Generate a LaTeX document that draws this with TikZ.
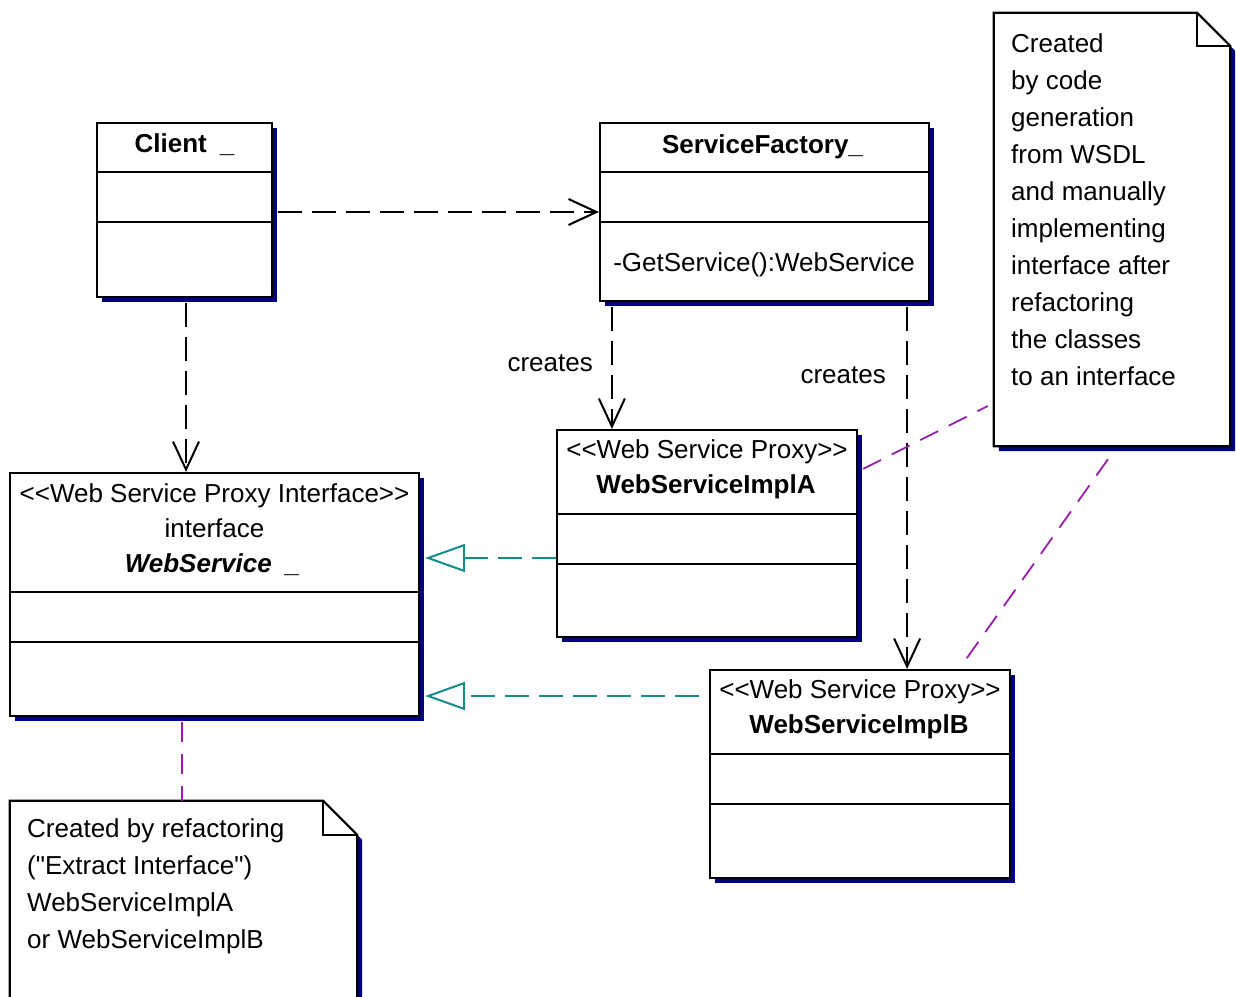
\documentclass[tikz,border=0pt]{standalone}
\usepackage{fontspec}
\setmainfont{Liberation Sans}[Ligatures=TeXOff]
\usetikzlibrary{arrows.meta,calc,shadows}
\definecolor{shadowblue}{RGB}{0,0,128}
\definecolor{realcol}{RGB}{20,140,140}
\definecolor{anccol}{RGB}{150,30,170}
\tikzset{
  umlbox/.style={draw=black, line width=2.2pt, fill=white, rectangle, inner sep=0pt,
    general shadow={fill=shadowblue, draw=none, shadow xshift=5pt, shadow yshift=-5pt}},
  notepath/.style={draw=black, line width=2.2pt, fill=white,
    general shadow={fill=shadowblue, draw=none, shadow xshift=5pt, shadow yshift=-5pt}},
  divider/.style={draw=black, line width=2pt},
  txt/.style={font=\fontsize{26}{31}\selectfont, inner sep=0pt},
  btxt/.style={font=\fontsize{26}{31}\selectfont\bfseries, inner sep=0pt},
  dep/.style={draw=black, line width=2pt, dash pattern=on 24pt off 10pt,
    -{Straight Barb[length=28pt,width=26pt]}},
  real/.style={draw=realcol, line width=2pt, dash pattern=on 24pt off 10pt,
    -{Triangle[open,length=40pt,width=28pt]}},
  anc/.style={draw=anccol, line width=1.8pt, dash pattern=on 20pt off 12pt},
}
\begin{document}
\begin{tikzpicture}[x=1pt,y=-1pt]
\clip (0,0) rectangle (1236,996);
\fill[white] (0,0) rectangle (1236,996);

% ---------- Client ----------
\node[umlbox, minimum width=175pt, minimum height=174pt] (client) at (184.5,210) {};
\draw[divider] ($(client.north west)+(0,50)$) -- ($(client.north east)+(0,50)$);
\draw[divider] ($(client.north west)+(0,100)$) -- ($(client.north east)+(0,100)$);
\node[btxt, anchor=base] (clientname) at (184.5,152) {Client\hspace{13pt}\_};

% ---------- ServiceFactory ----------
\node[umlbox, minimum width=329pt, minimum height=178pt] (sf) at (764.5,212) {};
\draw[divider] ($(sf.north west)+(0,50)$) -- ($(sf.north east)+(0,50)$);
\draw[divider] ($(sf.north west)+(0,100)$) -- ($(sf.north east)+(0,100)$);
\node[btxt, anchor=base] (sfname) at (762.5,153) {ServiceFactory\_};
\node[txt, anchor=base] (sfop) at (764,271) {-GetService():WebService};

% ---------- WebService interface ----------
\node[umlbox, minimum width=409pt, minimum height=243pt] (ws) at (214.5,594.5) {};
\draw[divider] ($(ws.north west)+(0,120)$) -- ($(ws.north east)+(0,120)$);
\draw[divider] ($(ws.north west)+(0,170)$) -- ($(ws.north east)+(0,170)$);
\node[txt, anchor=base] (wsst) at (214.5,502) {<<Web Service Proxy Interface>>};
\node[txt, anchor=base] (wskw) at (214.5,537) {interface};
\node[btxt, anchor=base, font=\fontsize{26}{31}\selectfont\bfseries\itshape] (wsname) at (212.5,572) {WebService\hspace{14pt}\_};

% ---------- WebServiceImplA ----------
\node[umlbox, minimum width=300pt, minimum height=207pt] (a) at (707,533.5) {};
\draw[divider] ($(a.north west)+(0,85)$) -- ($(a.north east)+(0,85)$);
\draw[divider] ($(a.north west)+(0,135)$) -- ($(a.north east)+(0,135)$);
\node[txt, anchor=base] (ast) at (707,458) {<<Web Service Proxy>>};
\node[btxt, anchor=base] (aname) at (706,493) {WebServiceImplA};

% ---------- WebServiceImplB ----------
\node[umlbox, minimum width=300pt, minimum height=208pt] (b) at (860,774) {};
\draw[divider] ($(b.north west)+(0,85)$) -- ($(b.north east)+(0,85)$);
\draw[divider] ($(b.north west)+(0,135)$) -- ($(b.north east)+(0,135)$);
\node[txt, anchor=base] (bst) at (860,698) {<<Web Service Proxy>>};
\node[btxt, anchor=base] (bname) at (859,733) {WebServiceImplB};

% ---------- Note 1 ----------
\node[minimum width=236pt, minimum height=433pt, inner sep=0pt] (n1) at (1112,229.5) {};
\path[notepath] (n1.north west) -- ($(n1.north east)+(-33,0)$) -- ($(n1.north east)+(0,33)$)
  -- (n1.south east) -- (n1.south west) -- cycle;
\draw[line width=2pt] ($(n1.north east)+(-33,0)$) -- ($(n1.north east)+(-33,33)$) -- ($(n1.north east)+(0,33)$);
\foreach \t [count=\i from 0] in {Created,by code,generation,from WSDL,and manually,implementing,interface after,refactoring,the classes,to an interface}
  \node[txt, anchor=base west] (n1l\i) at (1011,52+37.1*\i) {\t};

% ---------- Note 2 ----------
\node[minimum width=347pt, minimum height=210pt, inner sep=0pt] (n2) at (183.5,906) {};
\path[notepath] (n2.north west) -- ($(n2.north east)+(-34,0)$) -- ($(n2.north east)+(0,34)$)
  -- (n2.south east) -- (n2.south west) -- cycle;
\draw[line width=2pt] ($(n2.north east)+(-34,0)$) -- ($(n2.north east)+(-34,34)$) -- ($(n2.north east)+(0,34)$);
\foreach \t [count=\i from 0] in {Created by refactoring,("Extract Interface"),WebServiceImplA,or WebServiceImplB}
  \node[txt, anchor=base west] (n2l\i) at (27,837+37.1*\i) {\t};

% ---------- Dependencies ----------
\draw[dep] ($(client.east |- sf.west)+(5,0)$) -- (sf.west);
\draw[dep] ($(client.south)+(1.5,5)$) coordinate (cw) -- (cw |- ws.north);
\coordinate (sfa) at ($(sf.south west)+(13,5)$);
\draw[dep] (sfa) -- (sfa |- a.north);
\coordinate (sfb) at ($(sf.south east)+(-23,5)$);
\draw[dep] (sfb) -- (sfb |- b.north);
\node[txt, anchor=base east] (c1) at (593,371) {creates};
\node[txt, anchor=base east] (c2) at (886,383) {creates};

% ---------- Realizations ----------
\coordinate (ar) at ($(a.west)+(0,24.5)$);
\draw[real] (ar) -- ($(ws.east |- ar)+(5,0)$);
\coordinate (br) at ($(b.west)+(-10,-78)$);
\draw[real] (br) -- ($(ws.east |- br)+(5,0)$);

% ---------- Note anchors ----------
\draw[anc] ($(a.north east)+(5,40)$) -- ($(n1.west)+(-6,176.5)$);
\draw[anc] ($(n1.south)+(-4,13)$) -- ($(b.north)+(102,-4)$);
\draw[anc] ($(ws.south)+(-32.5,5)$) -- ($(n2.north)+(-1.5,0)$);
\end{tikzpicture}
\end{document}
